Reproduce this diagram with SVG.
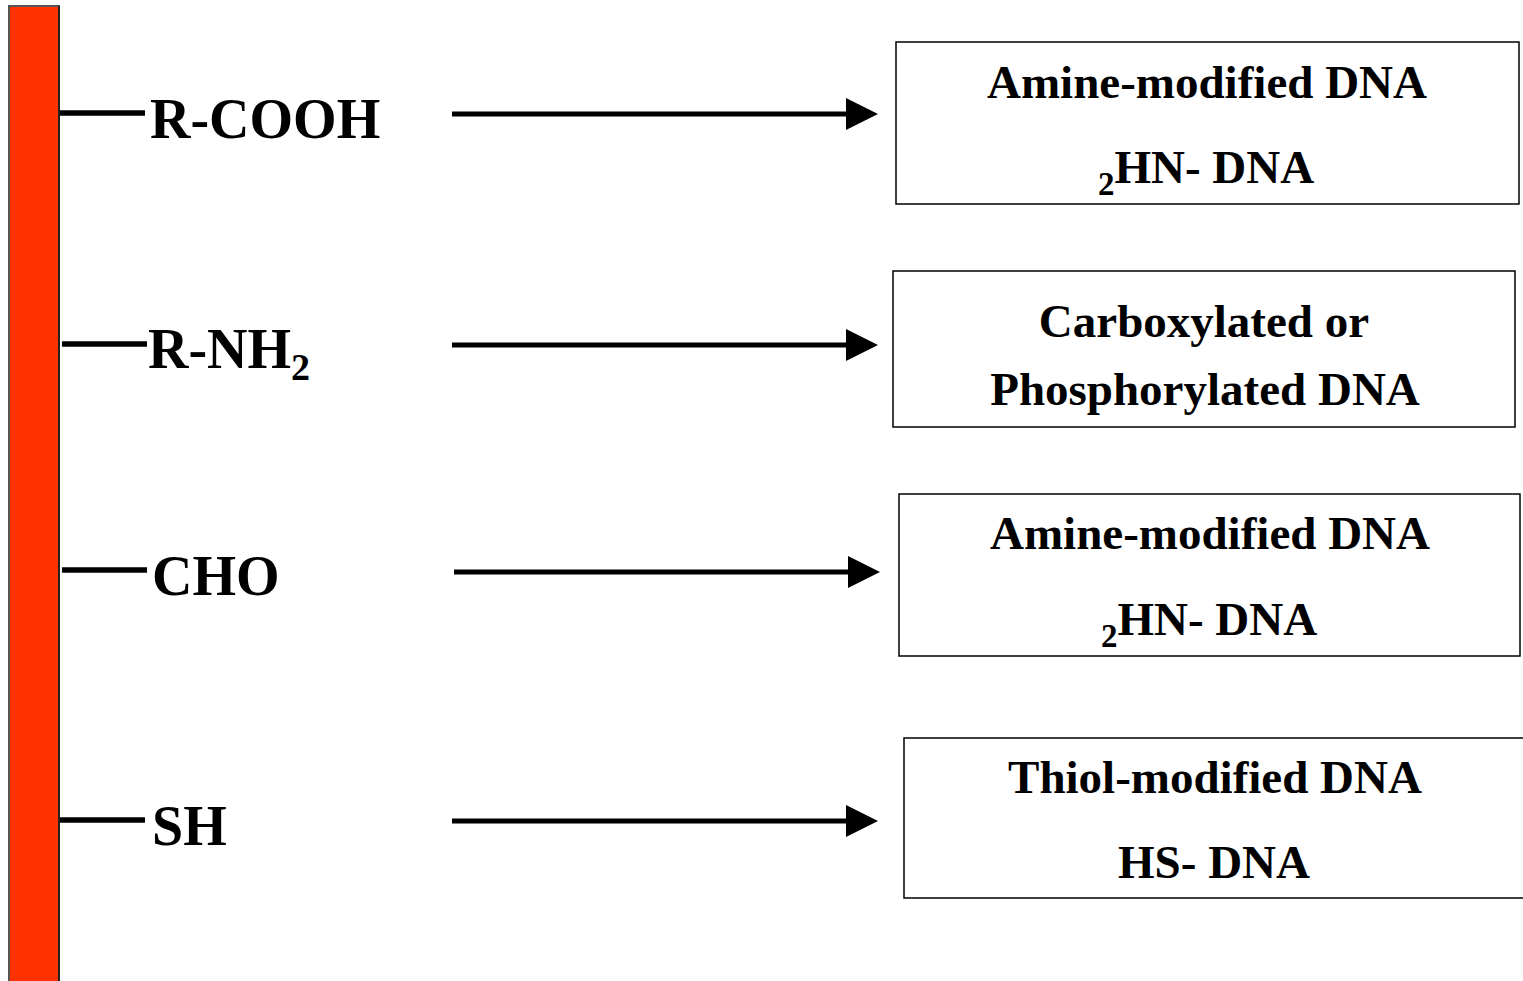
<svg xmlns="http://www.w3.org/2000/svg" width="1523" height="981" viewBox="0 0 1523 981">
<style>
.lbl{font-family:"Liberation Serif","Times New Roman",serif;font-weight:bold;font-size:56px;fill:#000}
.bx{fill:#fff;stroke:#000;stroke-width:1.5}
.bt{font-family:"Liberation Serif","Times New Roman",serif;font-weight:bold;font-size:47px;fill:#000;text-anchor:middle}
.stub{stroke:#000;stroke-width:5.5}
.conn{stroke:#000;stroke-width:5;fill:none;marker-end:url(#ah)}
</style>
<defs>
<marker id="ah" markerUnits="userSpaceOnUse" markerWidth="34" markerHeight="34" refX="2" refY="16" orient="auto" viewBox="0 0 34 34">
<path d="M0,0 L32,16 L0,32 Z" fill="#000"/>
</marker>
</defs>
<rect width="1523" height="981" fill="#fff"/>
<g id="surface">
<rect x="9" y="6" width="50" height="980" fill="#FF3300" stroke="#555" stroke-width="2"/>
<line x1="59" y1="6" x2="59" y2="981" stroke="#222" stroke-width="2"/>
</g>
<g id="cooh">
<line class="stub" x1="60" y1="113" x2="145" y2="113"/>
<text class="lbl" x="150" y="138">R-COOH</text>
</g>
<g id="nh2">
<line class="stub" x1="62" y1="344" x2="147" y2="344"/>
<text class="lbl" x="148" y="368">R-NH<tspan font-size="38" dy="12">2</tspan></text>
</g>
<g id="cho">
<line class="stub" x1="62" y1="570" x2="147" y2="570"/>
<text class="lbl" x="152" y="595">CHO</text>
</g>
<g id="sh">
<line class="stub" x1="60" y1="820" x2="145" y2="820"/>
<text class="lbl" x="152" y="845">SH</text>
</g>
<g id="box1">
<rect class="bx" x="896" y="42" width="623" height="162"/>
<text class="bt" x="1207" y="98">Amine-modified DNA</text>
<text class="bt" x="1206" y="183"><tspan font-size="33" dy="12">2</tspan><tspan dy="-12">HN- DNA</tspan></text>
</g>
<g id="box2">
<rect class="bx" x="893" y="271" width="622" height="156"/>
<text class="bt" x="1204" y="337">Carboxylated or</text>
<text class="bt" x="1205" y="405">Phosphorylated DNA</text>
</g>
<g id="box3">
<rect class="bx" x="899" y="494" width="621" height="162"/>
<text class="bt" x="1210" y="549">Amine-modified DNA</text>
<text class="bt" x="1209" y="635"><tspan font-size="33" dy="12">2</tspan><tspan dy="-12">HN- DNA</tspan></text>
</g>
<g id="box4">
<rect class="bx" x="904" y="738" width="625" height="160"/>
<text class="bt" x="1215" y="793">Thiol-modified DNA</text>
<text class="bt" x="1214" y="878">HS- DNA</text>
</g>
<g id="connectors">
<line class="conn" x1="452" y1="114" x2="848" y2="114"/>
<line class="conn" x1="452" y1="345" x2="848" y2="345"/>
<line class="conn" x1="454" y1="572" x2="850" y2="572"/>
<line class="conn" x1="452" y1="821" x2="848" y2="821"/>
</g>
</svg>
